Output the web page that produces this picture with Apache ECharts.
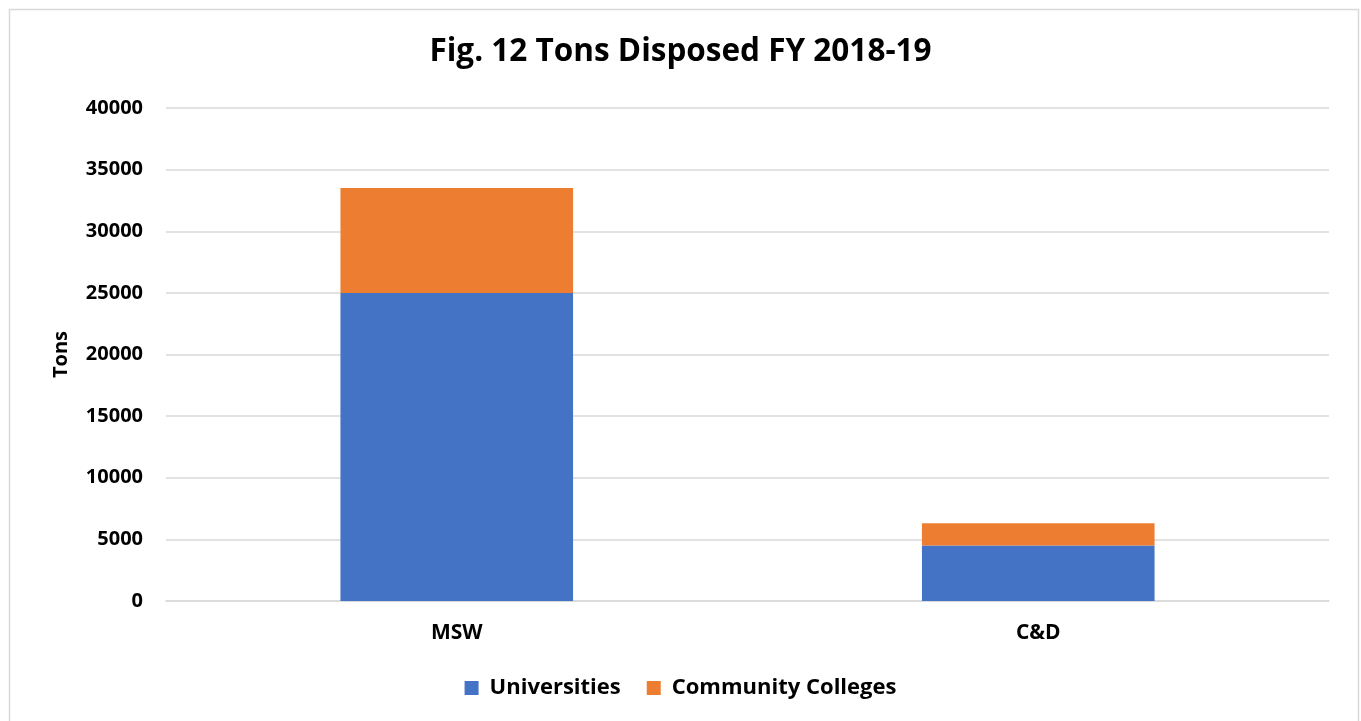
<!DOCTYPE html>
<html lang="en">
<head>
  <meta charset="UTF-8">
  <title>Fig. 12 Tons Disposed FY 2018-19</title>
  <style>
    html, body { margin: 0; padding: 0; background: #fff; }
    #chart { width: 1361px; height: 721px; }
  </style>
</head>
<body>
  <div id="chart"></div>
  <script src="https://cdn.jsdelivr.net/npm/echarts@6/dist/echarts.min.js"></script>
  <script>
    // data
    var categories = ['MSW', 'C&D'];
    var universities = [25000, 4500];
    var communityColleges = [8500, 1800];
    var yTicks = [0, 5000, 10000, 15000, 20000, 25000, 30000, 35000, 40000];

    var font = '"Open Sans", "Liberation Sans", sans-serif';
    var chart = echarts.init(document.getElementById('chart'));

    var option = {
      animation: false,
      title: {
        text: 'Fig. 12 Tons Disposed FY 2018-19',
        left: 'center',
        top: 31,
        textStyle: { fontFamily: font, fontSize: 31.5, fontWeight: 'bold', color: '#000' }
      },
      graphic: [{
        type: 'rect',
        shape: { x: 9.5, y: 9.5, width: 1349, height: 730 },
        style: { fill: 'none', stroke: '#d9d9d9', lineWidth: 1.5 },
        silent: true
      }],
      legend: {
        bottom: 17,
        left: 'center',
        itemWidth: 14,
        itemHeight: 14,
        itemGap: 26,
        icon: 'rect',
        textStyle: { fontFamily: font, fontSize: 22, fontWeight: 'bold', color: '#000', padding: [0, 0, 0, 6] },
        data: ['Universities', 'Community Colleges']
      },
      grid: { left: 166, right: 32, top: 108, bottom: 120 },
      xAxis: {
        type: 'category',
        data: categories,
        axisLine: { lineStyle: { color: '#d9d9d9', width: 1.5 } },
        axisTick: { show: false },
        axisLabel: { fontFamily: font, fontSize: 21, fontWeight: 'bold', color: '#000', margin: 22 }
      },
      yAxis: {
        type: 'value',
        min: yTicks[0],
        max: yTicks[yTicks.length - 1],
        interval: 5000,
        name: 'Tons',
        nameLocation: 'middle',
        nameGap: 95,
        nameTextStyle: { fontFamily: font, fontSize: 20, fontWeight: 'bold', color: '#000' },
        axisLine: { show: false },
        axisTick: { show: false },
        axisLabel: {
          fontFamily: font, fontSize: 20, fontWeight: 'bold', color: '#000', margin: 23,
          formatter: function (v) { return String(v); }
        },
        splitLine: { lineStyle: { color: '#d9d9d9', width: 1.5 } }
      },
      series: [{
        name: 'Universities',
        type: 'bar',
        stack: 'total',
        barCategoryGap: '60%',
        data: universities,
        itemStyle: { color: '#4472c4' }
      }, {
        name: 'Community Colleges',
        type: 'bar',
        stack: 'total',
        barCategoryGap: '60%',
        data: communityColleges,
        itemStyle: { color: '#ed7d31' }
      }]
    };

    chart.setOption(option);
  </script>
</body>
</html>
